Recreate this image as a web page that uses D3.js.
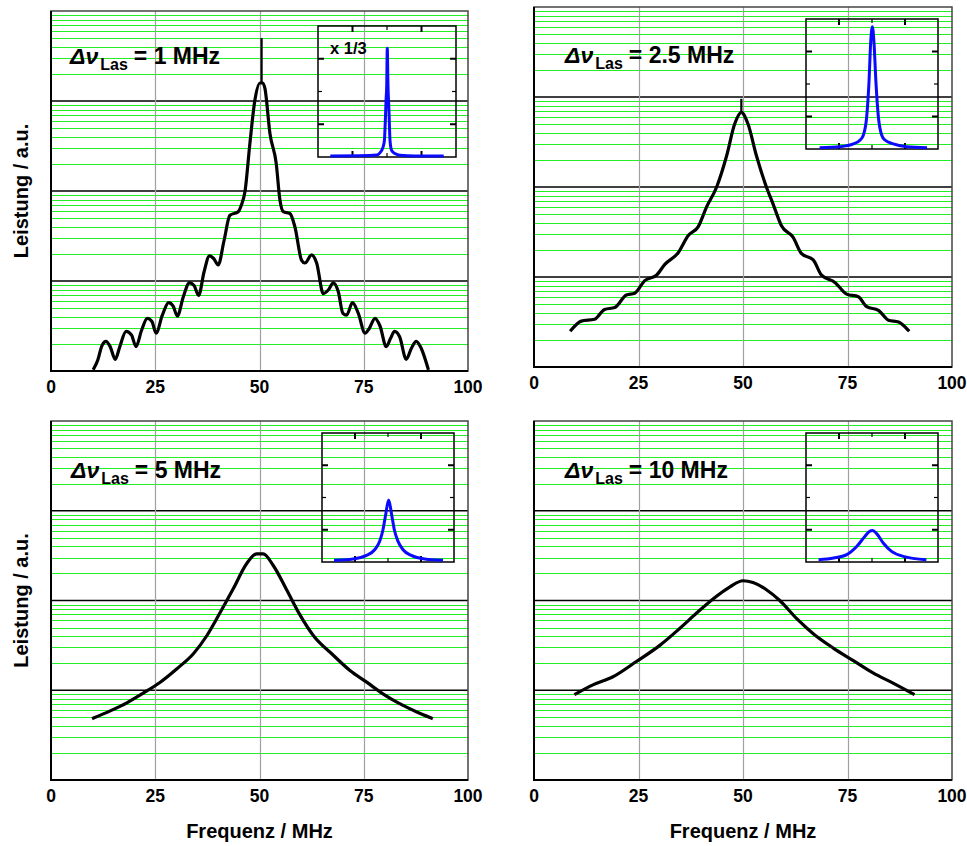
<!DOCTYPE html>
<html>
<head>
<meta charset="utf-8">
<script src="https://cdn.jsdelivr.net/npm/d3@7"></script>
<style>
  body { margin: 0; background: #fff; }
  text { font-family: "Liberation Sans", Arial, Helvetica, sans-serif; font-weight: bold; fill: #000; }
</style>
</head>
<body>
<div id="chart"></div>
<script>
// laser linewidths shown in the four panels (MHz)
const laserWidths = ["1", "2.5", "5", "10"];
const freqTicks = [0, 25, 50, 75, 100];

// main spectra: [frequency MHz, power in decades above the bottom of the log axis]
const spec1 = [[10.3, 0.03], [11.2, 0.12], [12.2, 0.28], [13.2, 0.33], [14.2, 0.27], [15.4, 0.13], [16.5, 0.27],
  [18.0, 0.44], [19.3, 0.40], [20.4, 0.27], [21.7, 0.45], [23.1, 0.585], [24.2, 0.55], [25.2, 0.42], [26.7, 0.62],
  [28.2, 0.76], [29.3, 0.72], [30.3, 0.61], [31.7, 0.82], [33.2, 0.98], [34.3, 0.95], [35.4, 0.84], [36.7, 1.10],
  [38.0, 1.28], [39.0, 1.25], [40.1, 1.18], [41.5, 1.45], [42.9, 1.73], [44.9, 1.77], [45.7, 1.85], [46.5, 1.99],
  [47.7, 2.53], [48.9, 3.01], [50.1, 3.20], [50.8, 3.20], [51.3, 3.14], [52.5, 2.64], [54.0, 2.31], [54.9, 1.90],
  [55.7, 1.77], [57.3, 1.75], [58.5, 1.60], [60.1, 1.23], [60.9, 1.20], [62.5, 1.29], [63.7, 1.20], [65.3, 0.86],
  [66.5, 0.90], [67.7, 0.98], [68.9, 0.88], [70.0, 0.64], [70.9, 0.62], [72.3, 0.76], [73.7, 0.64], [75.3, 0.42],
  [76.3, 0.47], [77.7, 0.585], [78.9, 0.50], [80.4, 0.27], [81.4, 0.36], [82.4, 0.44], [83.6, 0.38], [85.2, 0.13],
  [86.4, 0.25], [87.6, 0.33], [88.8, 0.25], [90.4, 0.03]];
const spec25 = [[8.9, 0.41], [11.3, 0.51], [14.5, 0.53], [16.9, 0.64], [19.3, 0.66], [22.1, 0.80], [24.1, 0.82],
  [26.5, 0.96], [29.3, 1.02], [31.3, 1.14], [34.5, 1.27], [36.9, 1.46], [39.3, 1.56], [41.3, 1.78], [43.7, 2.00],
  [46.1, 2.35], [48.0, 2.70], [49.6, 2.83], [51.2, 2.70], [53.2, 2.35], [55.6, 2.00], [57.2, 1.81], [59.2, 1.57],
  [62.0, 1.44], [64.0, 1.26], [66.8, 1.19], [68.8, 1.02], [72.0, 0.94], [74.8, 0.81], [77.6, 0.78], [79.6, 0.67],
  [82.4, 0.63], [84.8, 0.52], [87.2, 0.50], [89.5, 0.41]];
const spec5 = [[10.2, 0.69], [14.2, 0.77], [18.2, 0.86], [22.2, 0.97], [26.2, 1.09], [30.2, 1.24], [34.2, 1.41],
  [37.4, 1.61], [40.5, 1.86], [43.7, 2.13], [46.9, 2.41], [49.3, 2.52], [50.9, 2.52], [53.3, 2.39], [56.5, 2.12],
  [59.7, 1.84], [62.9, 1.61], [67.7, 1.39], [71.7, 1.22], [75.7, 1.09], [79.6, 0.96], [83.6, 0.85], [87.6, 0.76],
  [91.2, 0.69]];
const spec10 = [[10.0, 0.96], [14.1, 1.06], [18.9, 1.15], [24.5, 1.32], [30.1, 1.50], [34.9, 1.69], [38.9, 1.86],
  [42.9, 2.02], [46.8, 2.15], [50.0, 2.22], [52.4, 2.20], [55.6, 2.12], [58.8, 2.00], [62.8, 1.80], [66.8, 1.63],
  [71.6, 1.47], [76.4, 1.33], [81.2, 1.19], [85.9, 1.08], [90.7, 0.96]];

// carrier spike: [frequency, from, to] in decades
const carriers = [[50.5, 3.2, 3.7], [49.6, 2.83, 2.98], null, null];

// inset spectra on a linear axis: [frequency MHz, fraction of inset height]
const inset1 = [[8.9, 0.008], [30, 0.01], [42.5, 0.015], [45, 0.034], [47, 0.072], [48.1, 0.124], [48.8, 0.28],
  [49.3, 0.43], [49.8, 0.55], [50.2, 0.83], [50.7, 0.55], [51.4, 0.36], [52.2, 0.124], [53.4, 0.05],
  [55.8, 0.026], [59.4, 0.013], [70, 0.008], [91.1, 0.008]];
const inset25 = [[10.3, 0.01], [25.9, 0.018], [35.9, 0.039], [41, 0.069], [43.5, 0.108], [46, 0.25], [47.7, 0.51],
  [49, 0.82], [50.3, 0.94], [51.5, 0.82], [53, 0.51], [54.8, 0.25], [57.3, 0.108], [59.8, 0.069], [66.1, 0.039],
  [76.1, 0.018], [91.7, 0.01]];
const inset5 = [[9.1, 0.013], [23.5, 0.023], [33.6, 0.051], [39.9, 0.095], [43.7, 0.16], [46.2, 0.25], [48.2, 0.365],
  [50.5, 0.48], [52.8, 0.365], [54.8, 0.25], [57.6, 0.16], [61.4, 0.095], [67.7, 0.051], [77.8, 0.023], [91.7, 0.013]];
const inset10 = [[9.5, 0.018], [20.9, 0.031], [30.9, 0.057], [38.4, 0.12], [44.7, 0.2], [48, 0.236], [50.5, 0.244],
  [53.5, 0.22], [58.5, 0.147], [64.8, 0.082], [73.6, 0.044], [91.2, 0.018]];
const insetNotes = ["x 1/3", "", "", ""];

const spectra = [spec1, spec25, spec5, spec10];
const insets = [inset1, inset25, inset5, inset10];

const W = 967, H = 846;
// panel frames, inset frames and title anchors
const panels = [
  {l: 51, r: 468, t: 11, b: 371, il: 318, ir: 456, it: 26, ib: 157, tx: 70, ty: 64},
  {l: 534, r: 952, t: 7, b: 367, il: 806, ir: 938, it: 19, ib: 149, tx: 565, ty: 63},
  {l: 51, r: 468, t: 421, b: 780, il: 322, ir: 454, it: 433, ib: 562, tx: 71, ty: 478},
  {l: 534, r: 952, t: 421, b: 780, il: 806, ir: 938, it: 433, ib: 562, tx: 565, ty: 478}
];

const svg = d3.select("#chart").append("svg").attr("width", W).attr("height", H);

//minor positions of the log grid (2..9 in every decade)
const minorVals = [];
[1, 10, 100, 1000].forEach(function(d) {
  for (let k = 2; k <= 9; k++) minorVals.push(k * d);
});

panels.forEach(function(p, i) {
  const x = d3.scaleLinear().domain([0, 100]).range([p.l, p.r]);
  const y = d3.scaleLog().domain([1, 1e4]).range([p.b, p.t]);
  const g = svg.append("g");
  const snap = v => Math.round(v) + 0.5;

  //green minor grid
  g.selectAll(".minor").data(minorVals).enter().append("line")
    .attr("x1", p.l).attr("x2", p.r)
    .attr("y1", d => snap(y(d))).attr("y2", d => snap(y(d)))
    .attr("stroke", "#22f022").attr("stroke-width", 1);
  //black decade lines
  g.selectAll(".decade").data([10, 100, 1000]).enter().append("line")
    .attr("x1", p.l).attr("x2", p.r)
    .attr("y1", d => y(d)).attr("y2", d => y(d))
    .attr("stroke", "#000").attr("stroke-width", 1.5);
  //grey vertical grid
  g.selectAll(".vgrid").data([25, 50, 75]).enter().append("line")
    .attr("x1", d => snap(x(d))).attr("x2", d => snap(x(d)))
    .attr("y1", p.t).attr("y2", p.b)
    .attr("stroke", "#a0a0a0").attr("stroke-width", 1.2);
  //frame
  g.append("rect").attr("x", p.l).attr("y", p.t).attr("width", p.r - p.l).attr("height", p.b - p.t)
    .attr("fill", "none").attr("stroke", "#444").attr("stroke-width", 1.5);
  g.append("path").attr("d", `M${p.l},${p.t}V${p.b}H${p.r}`)
    .attr("fill", "none").attr("stroke", "#000").attr("stroke-width", 2);

  //inset
  const xi = d3.scaleLinear().domain([0, 100]).range([p.il, p.ir]);
  const yi = d3.scaleLinear().domain([0, 1]).range([p.ib, p.it]);
  const ins = g.append("g");
  ins.append("rect").attr("x", p.il).attr("y", p.it).attr("width", p.ir - p.il).attr("height", p.ib - p.it)
    .attr("fill", "none").attr("stroke", "#000").attr("stroke-width", 1.5);
  const xt = [{v: 25, len: 6, w: 2}, {v: 50, len: 4, w: 1.2}, {v: 75, len: 6, w: 2}];
  const yt = [{v: 0.25, len: 6, w: 2}, {v: 0.5, len: 4, w: 1.2}, {v: 0.75, len: 6, w: 2}];
  xt.forEach(function(t) {
    ins.append("line").attr("x1", xi(t.v)).attr("x2", xi(t.v)).attr("y1", p.it).attr("y2", p.it + t.len)
      .attr("stroke", "#000").attr("stroke-width", t.w);
    ins.append("line").attr("x1", xi(t.v)).attr("x2", xi(t.v)).attr("y1", p.ib).attr("y2", p.ib - t.len)
      .attr("stroke", "#000").attr("stroke-width", t.w);
  });
  yt.forEach(function(t) {
    ins.append("line").attr("y1", yi(t.v)).attr("y2", yi(t.v)).attr("x1", p.il).attr("x2", p.il + t.len)
      .attr("stroke", "#000").attr("stroke-width", t.w);
    ins.append("line").attr("y1", yi(t.v)).attr("y2", yi(t.v)).attr("x1", p.ir).attr("x2", p.ir - t.len)
      .attr("stroke", "#000").attr("stroke-width", t.w);
  });
  ins.append("path").datum(insets[i])
    .attr("d", d3.line().x(d => xi(d[0])).y(d => yi(d[1])).curve(d3.curveMonotoneX))
    .attr("fill", "none").attr("stroke", "#0a0aff").attr("stroke-width", 3).attr("stroke-linejoin", "round");
  if (insetNotes[i]) {
    ins.append("text").attr("x", p.il + 12).attr("y", p.it + 28).attr("font-size", 16.5).text(insetNotes[i]);
  }

  //main spectrum
  g.append("path").datum(spectra[i])
    .attr("d", d3.line().x(d => x(d[0])).y(d => y(Math.pow(10, d[1]))).curve(d3.curveMonotoneX))
    .attr("fill", "none").attr("stroke", "#000").attr("stroke-width", 3.2)
    .attr("stroke-linejoin", "round").attr("stroke-linecap", "square");
  const c = carriers[i];
  if (c) {
    g.append("line").attr("x1", x(c[0])).attr("x2", x(c[0]))
      .attr("y1", y(Math.pow(10, c[1]))).attr("y2", y(Math.pow(10, c[2])))
      .attr("stroke", "#000").attr("stroke-width", 2.2);
  }

  //title
  const title = g.append("text").attr("x", p.tx).attr("y", p.ty).attr("font-size", 23);
  title.append("tspan").attr("font-style", "italic").text("\u0394\u03bd");
  title.append("tspan").attr("font-size", 16).attr("dy", 6).attr("dx", 2).text("Las");
  title.append("tspan").attr("dy", -6).attr("dx", 6).text("= " + laserWidths[i] + " MHz");

  //tick labels
  g.selectAll(".tick").data(freqTicks).enter().append("text")
    .attr("x", d => x(d)).attr("y", p.b + 22)
    .attr("text-anchor", "middle").attr("font-size", 17.5)
    .text(d => d);

  if (i % 2 === 0) {
    g.append("text").attr("transform", `translate(28,${(p.t + p.b) / 2}) rotate(-90)`)
      .attr("text-anchor", "middle").attr("font-size", 20).text("Leistung / a.u.");
  }
  if (i >= 2) {
    g.append("text").attr("x", (p.l + p.r) / 2).attr("y", 838)
      .attr("text-anchor", "middle").attr("font-size", 20).text("Frequenz / MHz");
  }
});
</script>
</body>
</html>
